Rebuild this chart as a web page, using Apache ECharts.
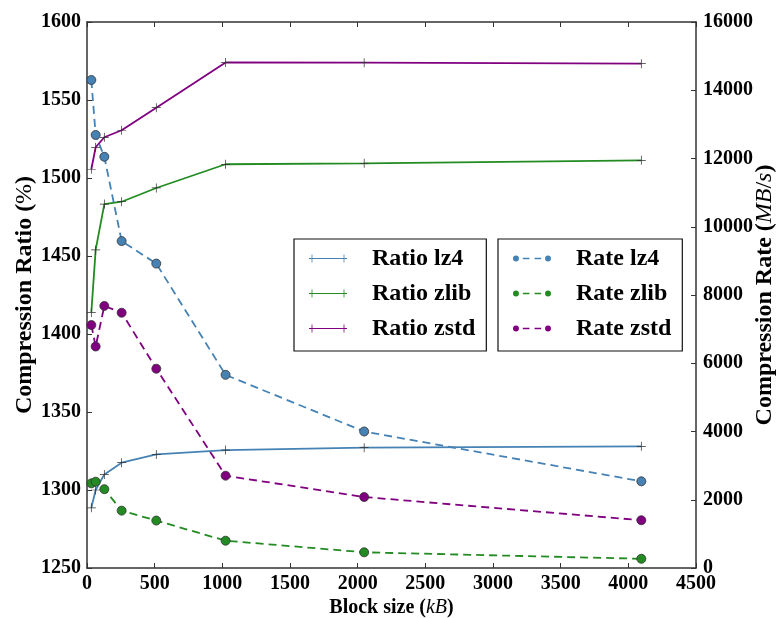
<!DOCTYPE html>
<html>
<head>
<meta charset="utf-8">
<script src="https://cdn.jsdelivr.net/npm/echarts@6/dist/echarts.min.js"></script>
<style>
  html, body { margin: 0; padding: 0; background: #fff; }
  #chart { width: 777px; height: 618px; }
</style>
</head>
<body>
<div id="chart"></div>
<script>
// Block sizes (kB) used in the benchmark
const blockSizes = [32, 64, 128, 256, 512, 1024, 2048, 4096];

// Compression ratio (%) per codec, left axis
const ratioLz4  = [1288.6, 1300.0, 1310.0, 1317.5, 1322.8, 1325.6, 1327.1, 1328.0];
const ratioZlib = [1413.8, 1453.9, 1483.3, 1484.8, 1493.6, 1508.8, 1509.4, 1511.3];
const ratioZstd = [1505.6, 1519.7, 1526.1, 1530.6, 1545.1, 1574.1, 1573.9, 1573.3];

// Compression rate (MB/s) per codec, right axis
const rateLz4  = [14300, 12690, 12050, 9580, 8920, 5660, 4000, 2540];
const rateZlib = [2480, 2530, 2310, 1680, 1390, 800, 460, 270];
const rateZstd = [7120, 6490, 7680, 7480, 5840, 2705, 2080, 1400];

const SERIF = 'Liberation Serif';
const AXIS_COLOR = '#333';
const C_LZ4 = '#4682b4', C_ZLIB = '#228b22', C_ZSTD = '#800080';

// point markers
const PLUS = 'path://M0,4.6H10V5.4H0Z M4.6,0H5.4V10H4.6Z';

// legend keys: a solid line with a "+" at each end, and a dashed line between two dots
const KEY_SOLID = 'path://M0,4.4H38V5.6H0Z M2.6,1H3.4V9H2.6Z M34.6,1H35.4V9H34.6Z';
const KEY_DASHED = 'path://M0.4,5A2.9,2.9 0 1 1 6.2,5A2.9,2.9 0 1 1 0.4,5Z' +
  ' M31.8,5A2.9,2.9 0 1 1 37.6,5A2.9,2.9 0 1 1 31.8,5Z' +
  ' M10,4.3H16.5V5.7H10Z M21.5,4.3H28V5.7H21.5Z';

const pairs = (ys) => blockSizes.map((x, i) => [x, ys[i]]);
const plain = (v) => String(v);

function ratioSeries(name, ys, color) {
  return {
    name, type: 'line', xAxisIndex: 0, yAxisIndex: 0, data: pairs(ys),
    symbol: PLUS, symbolSize: 9, showAllSymbol: true,
    itemStyle: { color: '#333' },
    lineStyle: { color, width: 1.8 },
    emphasis: { disabled: true }
  };
}
function rateSeries(name, ys, color) {
  return {
    name, type: 'line', xAxisIndex: 0, yAxisIndex: 1, data: pairs(ys),
    symbol: 'circle', symbolSize: 9, showAllSymbol: true,
    itemStyle: { color, borderColor: '#333', borderWidth: 0.8 },
    lineStyle: { color, width: 1.8, type: [8, 5] },
    emphasis: { disabled: true }
  };
}

const textOf = (size, extra) => Object.assign({ fontFamily: SERIF, fontSize: size, color: '#000' }, extra);
const xTitle = { b: textOf(20, { fontWeight: 'bold' }), i: textOf(20, { fontStyle: 'italic' }) };
const yTitle = {
  b: textOf(24, { fontWeight: 'bold' }),
  i: textOf(24, { fontStyle: 'italic' }),
  u: textOf(24, { fontWeight: 'normal' })
};

const tickLabel = { fontFamily: SERIF, fontWeight: 'bold', fontSize: 20, color: '#000', formatter: plain };

function legendBox(left, entries) {
  return {
    orient: 'vertical', left, top: 239,
    data: entries.map(([name, icon, color]) => ({
      name, icon, itemStyle: { color, borderWidth: 0 }
    })),
    padding: [7, 11, 10, 15],
    itemGap: 10, itemWidth: 38, itemHeight: 10,
    borderColor: '#111', borderWidth: 1.2, borderRadius: 0,
    backgroundColor: '#fff',
    textStyle: { fontFamily: SERIF, fontWeight: 'bold', fontSize: 24, color: '#000',
                 lineHeight: 25, padding: [0, 0, 0, 20] },
    selectedMode: false
  };
}

const option = {
  animation: false,
  backgroundColor: '#fff',
  grid: { left: 87, right: 81, top: 22, bottom: 50, containLabel: false, outerBoundsMode: 'none' },
  legend: [
    legendBox(294, [
      ['Ratio lz4', KEY_SOLID, C_LZ4],
      ['Ratio zlib', KEY_SOLID, C_ZLIB],
      ['Ratio zstd', KEY_SOLID, C_ZSTD]
    ]),
    legendBox(498, [
      ['Rate lz4', KEY_DASHED, C_LZ4],
      ['Rate zlib', KEY_DASHED, C_ZLIB],
      ['Rate zstd', KEY_DASHED, C_ZSTD]
    ])
  ],
  xAxis: [{
    type: 'value', min: 0, max: 4500, interval: 500, position: 'bottom',
    name: '{b|Block size (}{i|kB}{b|)}', nameLocation: 'middle', nameGap: 30, nameMoveOverlap: false,
    nameTextStyle: { rich: xTitle },
    axisLine: { show: true, onZero: false, lineStyle: { color: AXIS_COLOR, width: 1.5 } },
    axisTick: { show: true, inside: true, length: 5, lineStyle: { color: AXIS_COLOR } },
    axisLabel: Object.assign({ margin: 6 }, tickLabel),
    splitLine: { show: false }
  }, {
    type: 'value', min: 0, max: 4500, interval: 500, position: 'top',
    axisLine: { show: true, onZero: false, lineStyle: { color: AXIS_COLOR, width: 1.5 } },
    axisTick: { show: true, inside: true, length: 5, lineStyle: { color: AXIS_COLOR } },
    axisLabel: { show: false },
    splitLine: { show: false }
  }],
  yAxis: [{
    type: 'value', min: 1250, max: 1600, interval: 50, position: 'left',
    name: '{b|Compression Ratio (}{u|%}{b|)}', nameLocation: 'middle', nameGap: 50, nameRotate: 90,
    nameMoveOverlap: false,
    nameTextStyle: { rich: yTitle },
    axisLine: { show: true, onZero: false, lineStyle: { color: AXIS_COLOR, width: 1.5 } },
    axisTick: { show: true, inside: true, length: 5, lineStyle: { color: AXIS_COLOR } },
    axisLabel: Object.assign({ margin: 6 }, tickLabel),
    splitLine: { show: false }
  }, {
    type: 'value', min: 0, max: 16000, interval: 2000, position: 'right',
    name: '{b|Compression Rate (}{i|MB}{u|/}{i|s}{b|)}', nameLocation: 'middle', nameGap: 57, nameRotate: 90,
    nameMoveOverlap: false,
    nameTextStyle: { rich: yTitle },
    axisLine: { show: true, onZero: false, lineStyle: { color: AXIS_COLOR, width: 1.5 } },
    axisTick: { show: true, inside: true, length: 5, lineStyle: { color: AXIS_COLOR } },
    axisLabel: Object.assign({ margin: 7 }, tickLabel),
    splitLine: { show: false }
  }],
  series: [
    ratioSeries('Ratio lz4', ratioLz4, C_LZ4),
    ratioSeries('Ratio zlib', ratioZlib, C_ZLIB),
    ratioSeries('Ratio zstd', ratioZstd, C_ZSTD),
    rateSeries('Rate lz4', rateLz4, C_LZ4),
    rateSeries('Rate zlib', rateZlib, C_ZLIB),
    rateSeries('Rate zstd', rateZstd, C_ZSTD)
  ]
};

const chart = echarts.init(document.getElementById('chart'), null, { renderer: 'canvas' });
chart.setOption(option);
</script>
</body>
</html>
